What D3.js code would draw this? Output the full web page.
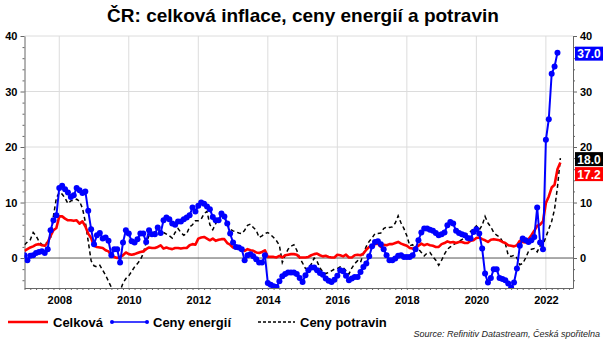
<!DOCTYPE html>
<html>
<head>
<meta charset="utf-8">
<script src="https://cdn.jsdelivr.net/npm/d3@7"></script>
<style>
  html, body { margin: 0; padding: 0; background: #fff; }
  svg { display: block; font-family: "Liberation Sans", Arial, sans-serif; }
</style>
</head>
<body>
<svg id="chart" width="605" height="340"></svg>
<script>
// Monthly series, y/y % change, from January 2007
const startYear = 2007;

const celkova = [
  1.3, 1.6, 1.9, 2.1, 2.4, 2.5, 2.3, 2.2, 2.8, 4.0, 5.0, 5.4,
  7.5, 7.5, 7.1, 6.8, 6.8, 6.7, 6.8, 6.2, 6.6, 5.7, 4.4, 3.6,
  2.2, 2.0, 1.9, 1.8, 1.4, 1.2, 0.4, 0.2, 0.0, 0.2, 0.5, 1.0,
  0.7, 0.6, 0.7, 0.9, 1.1, 1.2, 1.6, 1.9, 1.8, 1.8, 2.0, 2.3,
  1.7, 1.9, 1.7, 1.6, 1.8, 1.8, 1.7, 1.8, 1.8, 2.3, 2.5, 2.4,
  3.5, 3.7, 3.8, 3.5, 3.2, 3.5, 3.1, 3.3, 3.4, 3.4, 2.7, 2.4,
  1.9, 1.8, 1.7, 1.7, 1.3, 1.6, 1.4, 1.3, 1.0, 0.9, 1.1, 1.4,
  0.2, 0.2, 0.2, 0.1, 0.4, 0.1, 0.5, 0.6, 0.7, 0.7, 0.6, 0.1,
  0.1, 0.1, 0.2, 0.5, 0.7, 0.8, 0.5, 0.3, 0.4, 0.2, 0.1, 0.1,
  0.6, 0.5, 0.3, 0.6, 0.1, 0.1, 0.5, 0.6, 0.5, 0.8, 1.5, 2.0,
  2.2, 2.5, 2.6, 2.0, 2.4, 2.3, 2.5, 2.5, 2.7, 2.9, 2.6, 2.4,
  2.2, 1.8, 1.7, 1.9, 2.2, 2.6, 2.3, 2.5, 2.3, 2.2, 2.0, 2.0,
  2.5, 2.7, 3.0, 2.8, 2.9, 2.7, 2.9, 2.9, 2.7, 2.7, 3.1, 3.2,
  3.6, 3.7, 3.4, 3.2, 2.9, 3.3, 3.4, 3.3, 3.2, 2.9, 2.7, 2.3,
  2.2, 2.1, 2.3, 3.1, 2.9, 2.8, 3.4, 4.1, 4.9, 5.8, 6.0, 6.6,
  9.9, 11.1, 12.7, 13.2, 16.0, 17.2
];

const cenyEnergii = [
  0.5, -0.4, 0.4, 0.5, 0.9, 1.1, 1.2, 0.9, 1.6, 5.0, 6.8, 7.7,
  12.6, 13.0, 12.4, 11.8, 11.0, 11.3, 12.6, 12.2, 11.7, 12.0, 8.5, 5.2,
  2.5, 4.1, 4.5, 3.5, 3.7, 3.1, 0.5, 1.6, 1.6, -0.8, 2.8, 5.0,
  4.4, 3.0, 2.8, 3.4, 4.4, 4.4, 2.9, 5.0, 4.3, 4.3, 5.5, 4.5,
  6.8, 7.3, 7.0, 6.2, 6.0, 6.6, 6.6, 7.0, 7.3, 7.7, 9.1, 8.4,
  9.4, 10.0, 9.8, 9.3, 8.8, 7.4, 6.8, 6.8, 8.0, 7.5, 6.2, 4.4,
  2.8, 2.0, 1.9, 1.6, -0.4, 0.5, 0.7, 0.3, -0.2, -0.8, -0.8, 0.5,
  -4.5, -4.8, -5.1, -5.2, -4.2, -3.3, -2.9, -2.6, -2.6, -2.6, -2.9, -3.6,
  -4.3, -3.1, -2.2, -1.7, -1.7, -2.2, -2.7, -3.0, -3.7, -4.1, -4.3, -3.9,
  -3.2, -2.2, -2.4, -3.2, -4.0, -3.7, -3.4, -3.4, -2.5, -1.6, -1.0, 0.3,
  2.1, 2.9, 3.0, 2.5, 1.6, 0.5, -0.4, -0.4, -0.1, 0.4, 0.5, 0.2,
  0.2, 0.2, 0.5, 1.6, 3.2, 4.6, 5.3, 5.3, 5.1, 4.9, 4.5, 4.1,
  4.3, 4.6, 5.9, 6.5, 6.2, 4.9, 4.5, 4.3, 4.1, 3.6, 3.5, 4.7,
  5.2, 4.4, 1.7, -2.8, -4.4, -3.6, -2.0, -2.0, -3.6, -3.8, -4.0, -4.6,
  -5.3, -4.4, -1.9, 2.2, 3.5, 3.2, 2.9, 3.2, 3.8, 9.1, 2.8, 1.6,
  21.3, 25.0, 33.2, 34.5, 37.0
];

const cenyPotravin = [
  2.4, 2.9, 3.3, 4.6, 4.0, 3.0, 2.4, 2.5, 2.9, 3.6, 7.6, 10.8,
  11.8, 11.5, 10.8, 9.8, 10.3, 10.4, 10.6, 10.2, 9.0, 6.5, 3.0, -0.5,
  -1.4, -1.6, -1.3, -2.2, -3.1, -4.2, -5.3, -6.0, -6.4, -6.0, -4.5, -3.7,
  -3.2, -2.4, -1.6, -1.0, -0.3, 0.8, 2.8, 4.0, 4.4, 4.7, 5.2, 4.9,
  4.6, 4.3, 4.0, 3.6, 4.6, 5.3, 4.6, 4.1, 4.4, 5.6, 6.0, 6.7,
  6.7, 7.0, 8.0, 8.4, 6.0, 5.1, 6.2, 7.0, 7.6, 7.4, 6.0, 5.2,
  4.9, 4.7, 4.5, 4.4, 5.0, 5.9, 6.1, 5.5, 5.0, 3.7, 4.0, 4.4,
  4.6, 4.2, 3.7, 3.1, 2.3, -0.8, 0.5, 1.6, 2.1, 2.4, 1.4, 0.0,
  -0.9, -1.9, -1.9, -1.1, 0.0, -0.6, -1.8, -2.5, -2.8, -2.6, -2.3, -2.0,
  -1.9, -1.6, -1.7, -2.3, -2.9, -1.8, -1.0, -0.5, -0.8, 0.8, 2.1, 3.0,
  3.6, 4.4, 4.4, 4.5, 5.3, 5.6, 5.5, 5.6, 6.3, 7.6, 6.3, 5.3,
  4.0, 2.2, 2.4, 1.3, 1.6, 1.0, 0.4, 0.9, 1.0, 0.2, -0.4, -1.3,
  -0.4, 0.7, 1.6, 2.0, 2.4, 2.7, 3.0, 3.3, 3.8, 4.5, 4.8, 5.2,
  5.8, 5.1, 5.9, 7.5, 6.3, 5.6, 4.6, 4.1, 3.8, 3.0, 2.6, 0.5,
  0.3, 0.5, 0.0, -1.2, -1.0, 0.0, 1.2, 1.6, 1.7, 1.1, 2.2, 2.4,
  3.8, 5.2, 6.6, 8.8, 12.8, 18.0
];

const yearTicks = [2008, 2010, 2012, 2014, 2016, 2018, 2020, 2022];
const yTicks = [0, 10, 20, 30, 40];

const seriesNames = ["Celková", "Ceny energií", "Ceny potravin"];
const titleText = "ČR: celková inflace, ceny energií a potravin";
const sourceText = "Source: Refinitiv Datastream, Česká spořitelna";

const RED = "#ff0000", BLUE = "#0000ff", BLACK = "#000000";

const svg = d3.select("#chart");
const plot = { left: 24.5, right: 573, top: 36, bottom: 288 };

const x = d3.scaleLinear().domain([2007, 2022.78]).range([plot.left, plot.right]);
const y = d3.scaleLinear().domain([-5.4, 40]).range([plot.bottom, plot.top]);
const t = i => startYear + i / 12;

// title
svg.append("text")
  .attr("x", 303).attr("y", 22)
  .attr("text-anchor", "middle")
  .attr("font-size", 19).attr("font-weight", "bold")
  .text(titleText);

// grid
const grid = svg.append("g");
grid.selectAll("line.h").data(yTicks.filter(v => v !== 0)).join("line")
  .attr("x1", plot.left).attr("x2", plot.right)
  .attr("y1", d => y(d)).attr("y2", d => y(d))
  .attr("stroke", "#dcdcdc").attr("stroke-width", 1);
grid.selectAll("line.v").data(yearTicks).join("line")
  .attr("x1", d => x(d)).attr("x2", d => x(d))
  .attr("y1", plot.top).attr("y2", plot.bottom)
  .attr("stroke", "#dcdcdc").attr("stroke-width", 1);
grid.append("line")
  .attr("x1", plot.left).attr("x2", plot.right)
  .attr("y1", y(0)).attr("y2", y(0))
  .attr("stroke", "#555").attr("stroke-width", 1);

// axes
const minorY = d3.range(-4, 41, 2).filter(v => v % 10 !== 0);
function styleAxis(g) {
  g.select(".domain").attr("stroke", "#666");
  g.selectAll(".tick line").attr("stroke", "#666");
  g.selectAll(".tick text").attr("font-size", 11).attr("font-weight", "bold")
    .attr("fill", "#000").attr("font-family", "'Liberation Sans', Arial, sans-serif");
}
const leftAxis = svg.append("g").attr("transform", `translate(${plot.left},0)`)
  .call(d3.axisLeft(y).tickValues(yTicks).tickSize(4).tickPadding(3).tickSizeOuter(0));
styleAxis(leftAxis);
svg.append("g").attr("transform", `translate(${plot.left},0)`)
  .call(d3.axisLeft(y).tickValues(minorY).tickSize(2).tickFormat("").tickSizeOuter(0))
  .call(g => { g.select(".domain").remove(); g.selectAll("line").attr("stroke", "#666"); });

const rightAxis = svg.append("g").attr("transform", `translate(${plot.right},0)`)
  .call(d3.axisRight(y).tickValues(yTicks).tickSize(4).tickPadding(3).tickSizeOuter(0));
styleAxis(rightAxis);
svg.append("g").attr("transform", `translate(${plot.right},0)`)
  .call(d3.axisRight(y).tickValues(minorY).tickSize(2).tickFormat("").tickSizeOuter(0))
  .call(g => { g.select(".domain").remove(); g.selectAll("line").attr("stroke", "#666"); });

const monthTicks = d3.range(0, 190, 2).map(t).filter(v => v <= 2022.78);
const bottomAxis = svg.append("g").attr("transform", `translate(0,${plot.bottom})`)
  .call(d3.axisBottom(x).tickValues(yearTicks).tickFormat(d3.format("d")).tickSize(0).tickPadding(8).tickSizeOuter(0));
styleAxis(bottomAxis);
svg.append("g").attr("transform", `translate(0,${plot.bottom})`)
  .call(d3.axisBottom(x).tickValues(monthTicks).tickSize(2).tickFormat("").tickSizeOuter(0))
  .call(g => { g.select(".domain").remove(); g.selectAll("line").attr("stroke", "#666"); });

// series
svg.append("clipPath").attr("id", "plotClip").append("rect")
  .attr("x", plot.left).attr("y", plot.top - 4)
  .attr("width", plot.right - plot.left).attr("height", plot.bottom - plot.top + 4);
const series = svg.append("g").attr("clip-path", "url(#plotClip)");
const line = d3.line().x((d, i) => x(t(i))).y(d => y(d));

series.append("path").datum(cenyPotravin)
  .attr("d", line).attr("fill", "none")
  .attr("stroke", BLACK).attr("stroke-width", 1.5).attr("stroke-dasharray", "4,3");
series.append("path").datum(celkova)
  .attr("d", line).attr("fill", "none")
  .attr("stroke", RED).attr("stroke-width", 2.6).attr("stroke-linejoin", "round");
series.append("path").datum(cenyEnergii)
  .attr("d", line).attr("fill", "none")
  .attr("stroke", BLUE).attr("stroke-width", 2).attr("stroke-linejoin", "round");
series.selectAll("circle.e").data(cenyEnergii).join("circle")
  .attr("cx", (d, i) => x(t(i))).attr("cy", d => y(d)).attr("r", 3)
  .attr("fill", BLUE);

// last-value labels on the right
const lastLabels = [
  { v: cenyEnergii[cenyEnergii.length - 1], color: BLUE },
  { v: cenyPotravin[cenyPotravin.length - 1], color: BLACK },
  { v: celkova[celkova.length - 1], color: RED }
];
const boxH = 14;
let prevBottom = -Infinity;
lastLabels.forEach(l => {
  let top = y(l.v) + 1 - boxH / 2;
  if (top < prevBottom + 1) top = prevBottom + 1;
  prevBottom = top + boxH;
  l.top = top;
});
const lbl = svg.append("g");
lbl.selectAll("rect").data(lastLabels).join("rect")
  .attr("x", 575).attr("y", d => d.top).attr("width", 28).attr("height", boxH)
  .attr("fill", d => d.color);
lbl.selectAll("text").data(lastLabels).join("text")
  .attr("x", 589).attr("y", d => d.top + boxH / 2 + 4.5)
  .attr("text-anchor", "middle").attr("fill", "#fff")
  .attr("font-size", 12).attr("font-weight", "bold")
  .text(d => d3.format(".1f")(d.v));

// legend
const lg = svg.append("g").attr("transform", "translate(0,322)");
lg.append("line").attr("x1", 8).attr("x2", 48).attr("y1", 0).attr("y2", 0)
  .attr("stroke", RED).attr("stroke-width", 2.6);
lg.append("text").attr("x", 53).attr("y", 5).text(seriesNames[0]);
lg.append("line").attr("x1", 112).attr("x2", 147).attr("y1", 0).attr("y2", 0)
  .attr("stroke", BLUE).attr("stroke-width", 1.5);
lg.selectAll("circle").data([112, 147]).join("circle")
  .attr("cx", d => d).attr("cy", 0).attr("r", 2).attr("fill", BLUE);
lg.append("text").attr("x", 153).attr("y", 5).text(seriesNames[1]);
lg.append("line").attr("x1", 258).attr("x2", 295).attr("y1", 0).attr("y2", 0)
  .attr("stroke", BLACK).attr("stroke-width", 1.3).attr("stroke-dasharray", "3,2");
lg.append("text").attr("x", 300).attr("y", 5).text(seriesNames[2]);
lg.selectAll("text").attr("font-size", 13).attr("font-weight", "bold").attr("fill", "#000");

// source
svg.append("text")
  .attr("x", 600).attr("y", 337)
  .attr("text-anchor", "end")
  .attr("font-size", 9).attr("font-style", "italic").attr("fill", "#222")
  .text(sourceText);
</script>
</body>
</html>
